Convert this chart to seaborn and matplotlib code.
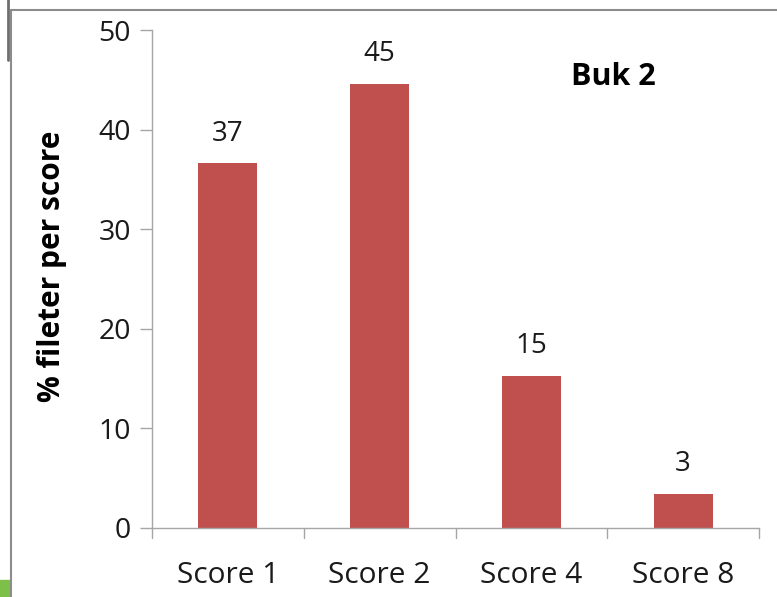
import matplotlib
matplotlib.use("Agg")
import matplotlib.pyplot as plt
import seaborn as sns
import pandas as pd
from matplotlib.lines import Line2D
from matplotlib.patches import Rectangle

categories = ["Score 1", "Score 2", "Score 4", "Score 8"]
values = [36.6, 44.6, 15.3, 3.4]
value_labels = ["37", "45", "15", "3"]
title_text = "Buk 2"
ylabel_text = "% fileter per score"
yticks = [0, 10, 20, 30, 40, 50]

sns.set_theme(style="white")
plt.rcParams['font.family'] = ['Open Sans', 'DejaVu Sans']

df = pd.DataFrame({"cat": categories, "val": values})

fig = plt.figure(figsize=(7.77, 5.97), dpi=100)
W, H = 777, 597
ax = fig.add_axes([152 / W, 1 - 528 / H, (759 - 152) / W, (528 - 30) / H])

sns.barplot(data=df, x="cat", y="val", color="#C0504D", saturation=1,
            width=0.39, ax=ax, edgecolor="none")

ax.set_ylim(0, 50)
ax.set_xlim(-0.5, 3.5)
ax.set_yticks(yticks)
ax.set_yticklabels([str(t) for t in yticks], fontsize=20.5, color="#1a1a1a")
ax.set_xticks(range(len(categories)))
ax.set_xticklabels(categories, fontsize=21.5, color="#1a1a1a")
ax.tick_params(axis="x", length=0, pad=24)
ax.tick_params(axis="y", length=9, width=1, color="#a6a6a6", pad=6, left=True)

# category boundary ticks on x axis
for b in [-0.5, 0.5, 1.5, 2.5, 3.5]:
    ax.plot([b, b], [0, -1.0], color="#a6a6a6", lw=1, clip_on=False)

for s in ["top", "right"]:
    ax.spines[s].set_visible(False)
for s in ["left", "bottom"]:
    ax.spines[s].set_color("#a6a6a6")
    ax.spines[s].set_linewidth(1)

ax.set_xlabel("")
ax.set_ylabel(ylabel_text, fontsize=21.5, fontweight="bold", color="#000000")
ax.yaxis.set_label_coords(-0.14, 0.525)

for i, (v, lab) in enumerate(zip(values, value_labels)):
    ax.text(i, v + 1.6, lab, ha="center", va="bottom", fontsize=20, color="#1a1a1a")

fig.text(613 / W, 1 - 77 / H, title_text, ha="center", va="center",
         fontsize=22, fontweight="bold", color="#000000")

# outer frame lines (screenshot border)
fig.add_artist(Line2D([11 / W, 1], [1 - 10 / H, 1 - 10 / H], color="#8c8c8c", lw=1.5,
                      transform=fig.transFigure))
fig.add_artist(Line2D([11 / W, 11 / W], [0, 1 - 10 / H], color="#8c8c8c", lw=1.5,
                      transform=fig.transFigure))
fig.add_artist(Line2D([8 / W, 8 / W], [1 - 60 / H, 1], color="#6e6e6e", lw=2,
                      transform=fig.transFigure))
fig.add_artist(Rectangle((0, 0), 9 / W, 17 / H, color="#7cc04a",
                         transform=fig.transFigure))

fig.savefig("out.png", dpi=100)
